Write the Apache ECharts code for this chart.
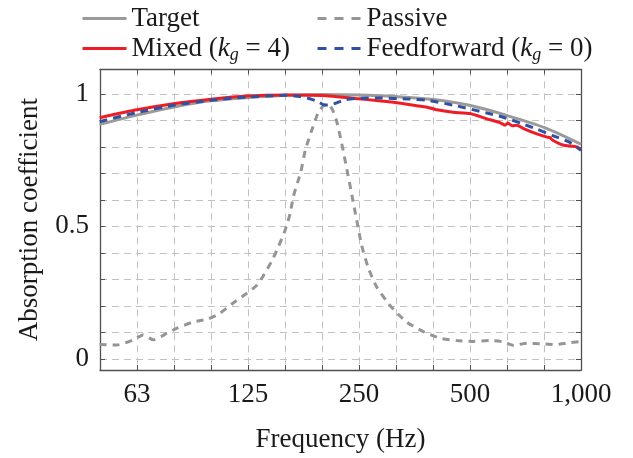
<!DOCTYPE html>
<html>
<head>
<meta charset="utf-8">
<script src="https://cdn.jsdelivr.net/npm/echarts@6/dist/echarts.min.js"></script>
<style>
html,body{margin:0;padding:0;background:#fff;}
#chart{width:633px;height:458px;}
</style>
</head>
<body>
<div id="chart"></div>
<script>
// ---- data (frequency in Hz, absorption coefficient) ----
const targetFreq = [50, 63, 80, 100, 125, 160, 200, 250, 315, 400, 500, 630, 800, 1000];
const targetVal  = [0.885, 0.92, 0.952, 0.974, 0.986, 0.995, 0.998, 0.996, 0.99, 0.979, 0.957, 0.919, 0.872, 0.81];

const passiveFreq = [50, 55.6, 61.7, 65.5, 69.8, 75.9, 80.7, 89.5, 98.3, 105.7, 114.8, 124.8, 132.8, 138.4, 145.8, 152, 158.5, 163.6, 166.9, 174.8, 180, 187.1, 194.9, 201.2, 207, 213, 218.8, 225.6, 232.8, 240.2, 247.6, 255.4, 266.2, 280.5, 298.6, 311, 338, 375, 416, 461, 512, 568, 617, 657, 714, 775, 859, 915, 1000];
const passiveVal  = [0.054, 0.052, 0.072, 0.09, 0.072, 0.096, 0.115, 0.139, 0.151, 0.172, 0.211, 0.247, 0.277, 0.313, 0.368, 0.422, 0.485, 0.548, 0.612, 0.705, 0.79, 0.862, 0.93, 0.955, 0.962, 0.94, 0.895, 0.813, 0.717, 0.62, 0.524, 0.428, 0.343, 0.271, 0.217, 0.187, 0.139, 0.103, 0.078, 0.069, 0.066, 0.069, 0.064, 0.051, 0.059, 0.057, 0.054, 0.06, 0.066];

const mixedFreq = [50, 63, 80, 100, 125, 160, 200, 250, 280, 315, 350, 384, 408, 451, 501, 557, 604, 623, 635, 651, 672, 697, 760, 809, 824, 839, 893, 975, 1000];
const mixedVal  = [0.91, 0.94, 0.964, 0.98, 0.992, 0.996, 0.994, 0.982, 0.975, 0.968, 0.958, 0.95, 0.94, 0.931, 0.926, 0.906, 0.892, 0.882, 0.89, 0.88, 0.882, 0.87, 0.849, 0.837, 0.835, 0.825, 0.807, 0.80, 0.79];

const ffFreq = [50, 63, 80, 100, 125, 160, 174, 185, 195, 203, 208, 216, 230, 248, 281, 311, 344, 384, 451, 557, 617, 690, 760, 839, 933, 1000];
const ffVal  = [0.895, 0.93, 0.958, 0.976, 0.988, 0.995, 0.99, 0.982, 0.97, 0.958, 0.958, 0.964, 0.978, 0.983, 0.985, 0.983, 0.981, 0.976, 0.958, 0.928, 0.912, 0.889, 0.867, 0.843, 0.817, 0.787];

const tickFreqs  = [63, 125, 250, 500, 1000];
const tickLabels = ['63', '125', '250', '500', '1,000'];
const yTickVals   = [0, 0.5, 1];
const yTickLabels = ['0', '0.5', '1'];

// third-octave band number: 10*log10(f)
const band = f => 10 * Math.log10(f);
const pts = (fs, vs) => fs.map((f, i) => [band(f), vs[i]]);

const FONT = "'Liberation Serif', 'Times New Roman', serif";
const FS = 27;
const TXT = '#1a1a1a';
const GRIDC = '#c2c2c2';
const AXC = '#505050';

const chart = echarts.init(document.getElementById('chart'), null, {renderer: 'canvas'});

const rich = {
  t: {fontFamily: FONT, fontSize: FS, color: TXT},
  k: {fontFamily: FONT, fontSize: FS, fontStyle: 'italic', color: TXT},
  g: {fontFamily: FONT, fontSize: 18, fontStyle: 'italic', color: TXT, padding: [13, 0, 0, 0]}
};
function legendFmt(name) {
  const m = name.match(/^(.*)\(kg = (\d)\)$/);
  if (m) return '{t|' + m[1] + '(}{k|k}{g|g}{t| = ' + m[2] + ')}';
  return '{t|' + name + '}';
}
function mkLegend(name, left, top, dashed) {
  return {
    data: [name], left: left, top: top, padding: 0,
    itemWidth: 44, itemHeight: 14, itemGap: 0,
    formatter: legendFmt,
    itemStyle: {opacity: 0},
    lineStyle: {width: 3, type: dashed ? [9, 8] : 'solid'},
    textStyle: {rich: rich, fontFamily: FONT, fontSize: FS, color: TXT},
    selectedMode: false
  };
}

const names = ['Target', 'Passive', 'Mixed (kg = 4)', 'Feedforward (kg = 0)'];

const xCommon = {type: 'value', min: 17, max: 30, interval: 1};
const yCommon = {type: 'value', min: -0.042, max: 1.093, splitNumber: 11};

chart.setOption({
  animation: false,
  textStyle: {fontFamily: FONT},
  legend: [
    mkLegend(names[0], 81, 5, false),
    mkLegend(names[1], 316, 5, true),
    mkLegend(names[2], 81, 35, false),
    mkLegend(names[3], 316, 35, true)
  ],
  grid: {left: 100, right: 52, top: 69.3, bottom: 74.7, containLabel: false},
  xAxis: [
    Object.assign({}, xCommon, {
      position: 'bottom',
      name: 'Frequency (Hz)', nameLocation: 'middle', nameGap: 56,
      nameTextStyle: {fontFamily: FONT, fontSize: FS, color: TXT},
      axisLine: {show: true, onZero: false, lineStyle: {color: AXC, width: 1.3}},
      axisTick: {show: true, inside: true, length: 5, lineStyle: {color: AXC}},
      splitLine: {show: true, lineStyle: {color: GRIDC, type: [7, 5], width: 1}},
      axisLabel: {
        margin: 11, fontFamily: FONT, fontSize: FS, color: TXT,
        formatter: v => {
          const i = tickFreqs.findIndex(f => Math.round(band(f)) === Math.round(v));
          return i >= 0 ? tickLabels[i] : '';
        }
      }
    }),
    Object.assign({}, xCommon, {
      position: 'top',
      axisLine: {show: true, onZero: false, lineStyle: {color: AXC, width: 1.3}},
      axisTick: {show: true, inside: true, length: 5, lineStyle: {color: AXC}},
      splitLine: {show: false}, axisLabel: {show: false}
    })
  ],
  yAxis: [
    Object.assign({}, yCommon, {
      position: 'left',
      name: 'Absorption coefficient', nameLocation: 'middle', nameGap: 57,
      nameTextStyle: {fontFamily: FONT, fontSize: FS, color: TXT},
      axisLine: {show: true, onZero: false, lineStyle: {color: AXC, width: 1.3}},
      axisTick: {show: true, inside: true, length: 5, lineStyle: {color: AXC}},
      splitLine: {show: true, lineStyle: {color: GRIDC, type: [7, 5], width: 1}},
      axisLabel: {
        margin: 11, fontFamily: FONT, fontSize: FS, color: TXT,
        showMinLabel: true, showMaxLabel: true,
        formatter: v => {
          const i = yTickVals.findIndex(t => Math.abs(t - v) < 1e-6);
          return i >= 0 ? yTickLabels[i] : '';
        }
      }
    }),
    Object.assign({}, yCommon, {
      position: 'right',
      axisLine: {show: true, onZero: false, lineStyle: {color: AXC, width: 1.3}},
      axisTick: {show: true, inside: true, length: 5, lineStyle: {color: AXC}},
      splitLine: {show: false}, axisLabel: {show: false}
    })
  ],
  series: [
    {name: names[0], type: 'line', data: pts(targetFreq, targetVal), smooth: 0.3, symbol: 'none',
     color: '#9a9a9a', lineStyle: {color: '#9a9a9a', width: 3}, z: 2},
    {name: names[1], type: 'line', data: pts(passiveFreq, passiveVal), smooth: 0.2, symbol: 'none',
     color: '#959595', lineStyle: {color: '#959595', width: 3, type: [7, 6]}, z: 3},
    {name: names[2], type: 'line', data: pts(mixedFreq, mixedVal), smooth: 0.15, symbol: 'none',
     color: '#ee1c25', lineStyle: {color: '#ee1c25', width: 3}, z: 4},
    {name: names[3], type: 'line', data: pts(ffFreq, ffVal), smooth: 0.2, symbol: 'none',
     color: '#3050a0', lineStyle: {color: '#3050a0', width: 3, type: [8, 6]}, z: 5}
  ]
});
</script>
</body>
</html>
